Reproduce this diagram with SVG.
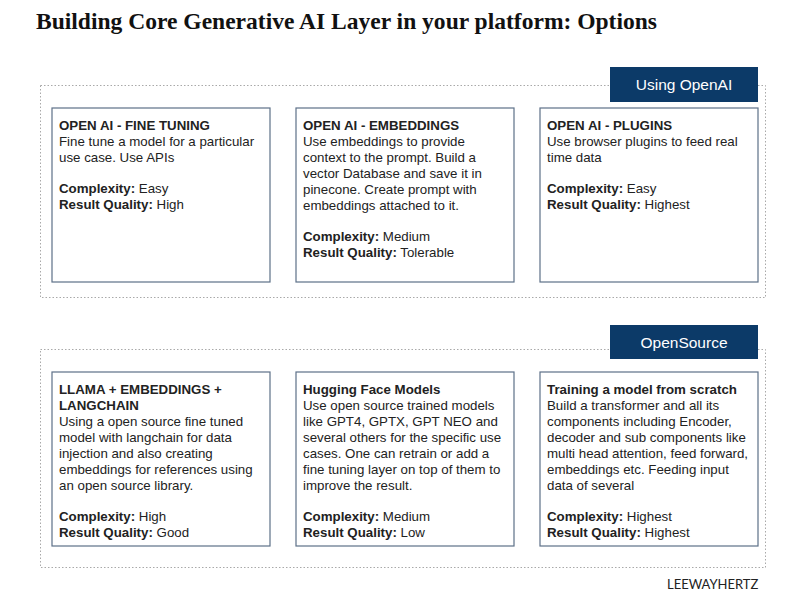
<svg xmlns="http://www.w3.org/2000/svg" width="800" height="600" viewBox="0 0 800 600">
<style>
.title{font-family:"Liberation Serif","Times New Roman",serif;font-weight:bold;font-size:23px;fill:#111}
.group{fill:none;stroke:#a9a9a9;stroke-width:1;stroke-dasharray:1.5,2}
.badge{fill:#0c3a68}
.badgetxt{font-family:"Liberation Sans",Arial,sans-serif;font-size:15.5px;fill:#fff;text-anchor:middle}
.box{fill:#fff;stroke:#5d7088;stroke-width:1.2}
.t{font-family:"Liberation Sans",Arial,sans-serif;font-size:13.3px;fill:#222}
.b{font-weight:bold}
.logo{font-family:Lato,"Open Sans",sans-serif;font-size:13px;fill:#222}
</style>
<rect width="800" height="600" fill="#fff"/>
<text class="title" x="36" y="29" textLength="621" lengthAdjust="spacingAndGlyphs">Building Core Generative AI Layer in your platform: Options</text>

<g id="group-openai">
<rect class="group" x="40.5" y="85.5" width="725" height="212"/>
<rect class="badge" x="610" y="67" width="148" height="35"/>
<text class="badgetxt" x="684" y="90">Using OpenAI</text>
</g>

<g id="node-finetuning">
<rect class="box" x="52" y="108" width="218" height="174"/>
<text class="t"><tspan class="b" x="59" y="130">OPEN AI - FINE TUNING</tspan><tspan x="59" y="146">Fine tune a model for a particular</tspan><tspan x="59" y="162">use case. Use APIs</tspan><tspan x="59" y="193"><tspan class="b">Complexity:</tspan> Easy</tspan><tspan x="59" y="209"><tspan class="b">Result Quality:</tspan> High</tspan></text>
</g>

<g id="node-embeddings">
<rect class="box" x="296" y="108" width="218" height="174"/>
<text class="t"><tspan class="b" x="303" y="130">OPEN AI - EMBEDDINGS</tspan><tspan x="303" y="146">Use embeddings to provide</tspan><tspan x="303" y="162">context to the prompt. Build a</tspan><tspan x="303" y="178">vector Database and save it in</tspan><tspan x="303" y="194">pinecone. Create prompt with</tspan><tspan x="303" y="210">embeddings attached to it.</tspan><tspan x="303" y="241"><tspan class="b">Complexity:</tspan> Medium</tspan><tspan x="303" y="257"><tspan class="b">Result Quality:</tspan> Tolerable</tspan></text>
</g>

<g id="node-plugins">
<rect class="box" x="540" y="108" width="218" height="174"/>
<text class="t"><tspan class="b" x="547" y="130">OPEN AI - PLUGINS</tspan><tspan x="547" y="146">Use browser plugins to feed real</tspan><tspan x="547" y="162">time data</tspan><tspan x="547" y="193"><tspan class="b">Complexity:</tspan> Easy</tspan><tspan x="547" y="209"><tspan class="b">Result Quality:</tspan> Highest</tspan></text>
</g>

<g id="group-opensource">
<rect class="group" x="40.5" y="349.5" width="725" height="218"/>
<rect class="badge" x="610" y="325" width="148" height="34"/>
<text class="badgetxt" x="684" y="348">OpenSource</text>
</g>

<g id="node-llama">
<rect class="box" x="52" y="372" width="218" height="174"/>
<text class="t"><tspan class="b" x="59" y="394">LLAMA + EMBEDDINGS +</tspan><tspan class="b" x="59" y="410">LANGCHAIN</tspan><tspan x="59" y="426">Using a open source fine tuned</tspan><tspan x="59" y="442">model with langchain for data</tspan><tspan x="59" y="458">injection and also creating</tspan><tspan x="59" y="474">embeddings for references using</tspan><tspan x="59" y="490">an open source library.</tspan><tspan x="59" y="521"><tspan class="b">Complexity:</tspan> High</tspan><tspan x="59" y="537"><tspan class="b">Result Quality:</tspan> Good</tspan></text>
</g>

<g id="node-huggingface">
<rect class="box" x="296" y="372" width="218" height="174"/>
<text class="t"><tspan class="b" x="303" y="394">Hugging Face Models</tspan><tspan x="303" y="410">Use open source trained models</tspan><tspan x="303" y="426">like GPT4, GPTX, GPT NEO and</tspan><tspan x="303" y="442">several others for the specific use</tspan><tspan x="303" y="458">cases. One can retrain or add a</tspan><tspan x="303" y="474">fine tuning layer on top of them to</tspan><tspan x="303" y="490">improve the result.</tspan><tspan x="303" y="521"><tspan class="b">Complexity:</tspan> Medium</tspan><tspan x="303" y="537"><tspan class="b">Result Quality:</tspan> Low</tspan></text>
</g>

<g id="node-scratch">
<rect class="box" x="540" y="372" width="218" height="174"/>
<text class="t"><tspan class="b" x="547" y="394">Training a model from scratch</tspan><tspan x="547" y="410">Build a transformer and all its</tspan><tspan x="547" y="426">components including Encoder,</tspan><tspan x="547" y="442">decoder and sub components like</tspan><tspan x="547" y="458">multi head attention, feed forward,</tspan><tspan x="547" y="474">embeddings etc. Feeding input</tspan><tspan x="547" y="490">data of several</tspan><tspan x="547" y="521"><tspan class="b">Complexity:</tspan> Highest</tspan><tspan x="547" y="537"><tspan class="b">Result Quality:</tspan> Highest</tspan></text>
</g>

<g id="connectors"></g>

<text class="logo" x="667" y="589">LEEWAYHERTZ</text>
</svg>
